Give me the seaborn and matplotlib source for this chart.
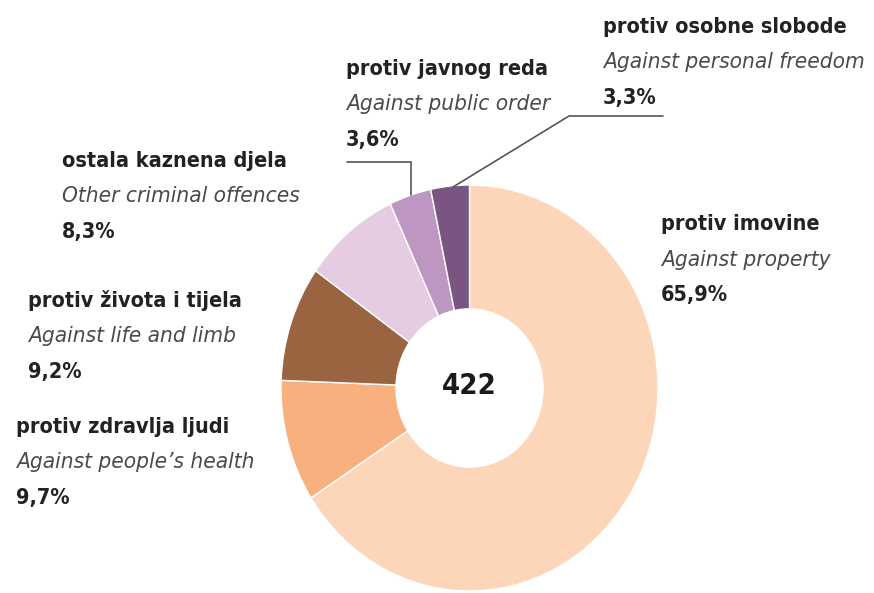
import matplotlib
matplotlib.use("Agg")
import matplotlib.pyplot as plt
from matplotlib import font_manager as fm
import seaborn as sns

# ---- data ----
categories_hr = ["protiv imovine", "protiv zdravlja ljudi", "protiv života i tijela",
                 "ostala kaznena djela", "protiv javnog reda", "protiv osobne slobode"]
categories_en = ["Against property", "Against people\u2019s health", "Against life and limb",
                 "Other criminal offences", "Against public order", "Against personal freedom"]
shares = [65.9, 9.7, 9.2, 8.3, 3.6, 3.3]
share_labels = ["65,9%", "9,7%", "9,2%", "8,3%", "3,6%", "3,3%"]
total = 422
slice_colors = ["#FDD6B9", "#F8B07F", "#9A6441", "#E6CCE3", "#BD97C2", "#7B5581"]

sns.set_theme(style="white")
palette = sns.color_palette(slice_colors)

# font choice: prefer a condensed face
names = {f.name for f in fm.fontManager.ttflist}
stretch_avail = {(f.name, f.stretch) for f in fm.fontManager.ttflist}
FAM, STRETCH = "DejaVu Sans", "normal"
if "Liberation Sans Narrow" in names:
    FAM, STRETCH = "Liberation Sans Narrow", "condensed"
elif "DejaVu Sans Condensed" in names:
    FAM, STRETCH = "DejaVu Sans Condensed", "condensed"
elif ("DejaVu Sans", "condensed") in stretch_avail:
    FAM, STRETCH = "DejaVu Sans", "condensed"
plt.rcParams["font.family"] = [FAM, "DejaVu Sans"]
plt.rcParams["font.stretch"] = STRETCH

W, H = 874, 593
fig = plt.figure(figsize=(W / 100, H / 100), dpi=100)
fig.patch.set_facecolor("white")

# pie axes (slightly taller than wide, as in the reference)
x0, x1, y0, y1 = 281, 658, 185, 591
ax = fig.add_axes([x0 / W, 1 - y1 / H, (x1 - x0) / W, (y1 - y0) / H])
ax.pie(shares, colors=palette, startangle=90, counterclock=False, radius=1,
       wedgeprops=dict(width=0.61, edgecolor="white", linewidth=1.0))
ax.set_aspect("auto")
ax.set_xlim(-1, 1)
ax.set_ylim(-1, 1)
ax.axis("off")
ax.text(0, 0.01, str(total), ha="center", va="center", fontsize=21,
        fontweight="bold", color="#1a1a1a", fontstretch=STRETCH)

# overlay axes in pixel coordinates for labels and leader lines
ov = fig.add_axes([0, 0, 1, 1], facecolor="none")
ov.set_xlim(0, W)
ov.set_ylim(H, 0)
ov.axis("off")

FS_B = 15.5
FS_I = 16.2
label_pos = [(661, 230), (16, 433), (28, 307), (62, 167), (346, 75), (603, 33)]
LS = 35.5
for (lx, ly), hr, en, pct in zip(label_pos, categories_hr, categories_en, share_labels):
    ov.text(lx, ly, hr, fontsize=FS_B, fontweight="bold", color="#222222",
            va="baseline", ha="left", fontstretch=STRETCH)
    ov.text(lx, ly + LS, en, fontsize=FS_I, fontstyle="italic", color="#4a4a4a",
            va="baseline", ha="left", fontstretch=STRETCH)
    ov.text(lx, ly + 2 * LS, pct, fontsize=FS_B, fontweight="bold", color="#222222",
            va="baseline", ha="left", fontstretch=STRETCH)

# leader lines
ov.plot([347, 411, 411], [162, 162, 195], color="#555555", lw=1.2, solid_joinstyle="miter")
ov.plot([663, 569, 453], [116, 116, 187], color="#555555", lw=1.2, solid_joinstyle="miter")

fig.savefig("out.png", dpi=100, facecolor="white")
